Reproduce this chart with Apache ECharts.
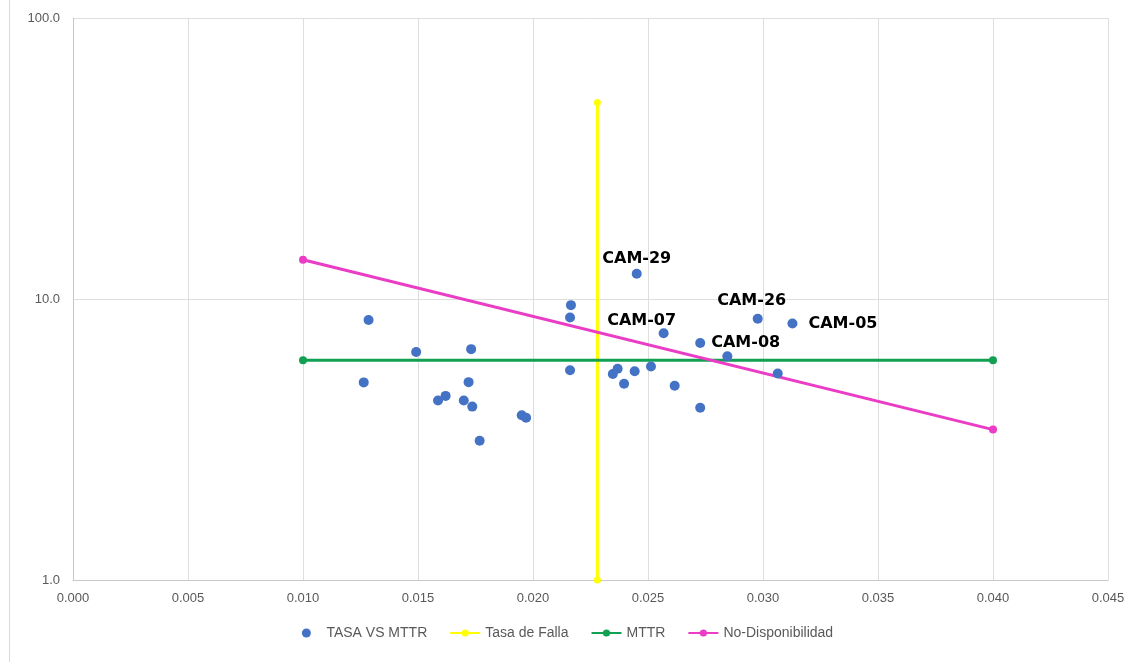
<!DOCTYPE html>
<html>
<head>
<meta charset="utf-8">
<script src="https://cdn.jsdelivr.net/npm/echarts@6/dist/echarts.min.js"></script>
<style>html,body{margin:0;padding:0;background:#fff}#c{width:1135px;height:662px}</style>
</head>
<body>
<div id="c"></div>
<script>
// Scatter points: failure rate (x) vs MTTR (y)
const tasaX = [0.01264,0.01285,0.01492,0.01731,0.01720,0.01587,0.01620,0.01699,0.01736,0.01951,0.01970,0.01768,
  0.02165,0.02161,0.02161,0.02451,0.02568,0.02727,0.02977,0.03128,0.02845,0.03064,0.02347,0.02368,0.02442,0.02513,0.02396,0.02616,0.02727];
const mttrY = [5.05,8.42,6.48,6.63,5.06,4.35,4.52,4.35,4.14,3.86,3.78,3.13,
  9.51,8.59,5.58,12.3,7.55,6.97,8.50,8.18,6.25,5.43,5.41,5.65,5.53,5.75,4.99,4.91,4.10];
const pointNames = ['','','','','','','','','','','','',
  '','','','CAM-29','CAM-07','CAM-08','CAM-26','CAM-05','','','','','','','','',''];
// Reference lines
const tasaFallaX = [0.0228, 0.0228];
const tasaFallaY = [1, 50];
const mttrLineX = [0.010, 0.040];
const mttrLineY = [6.05, 6.05];
const noDispX = [0.010, 0.040];
const noDispY = [13.8, 3.43];
const xTicks = [0,0.005,0.010,0.015,0.020,0.025,0.030,0.035,0.040,0.045];
const yTicks = [1,10,100];

const labelStyle = {
  'CAM-29': {position:'top', distance:2, offset:[0,0]},
  'CAM-07': {position:'top', distance:4, offset:[-22,5]},
  'CAM-08': {position:'right', distance:6, offset:[0,0]},
  'CAM-26': {position:'top', distance:5, offset:[-6,0]},
  'CAM-05': {position:'right', distance:11, offset:[0,0]}
};

const scatterData = tasaX.map((x,i) => {
  const d = {value:[x, mttrY[i]], name: pointNames[i]};
  if (pointNames[i]) {
    const s = labelStyle[pointNames[i]];
    d.label = {show:true, formatter: pointNames[i], position:s.position, distance:s.distance, offset:s.offset,
      fontFamily:'DejaVu Sans', fontWeight:'bold', fontSize:16, color:'#000'};
  }
  return d;
});
const pair = (xs, ys) => xs.map((x,i)=>[x, ys[i]]);

const chart = echarts.init(document.getElementById('c'), null, {renderer:'canvas'});
chart.setOption({
  animation:false,
  backgroundColor:'#fff',
  textStyle:{fontFamily:'Liberation Sans'},
  graphic:[{type:'line', shape:{x1:9.5,y1:0,x2:9.5,y2:662}, style:{stroke:'#d9d9d9', lineWidth:1}, silent:true}],
  grid:{left:73, right:27, top:18, bottom:82, containLabel:false},
  legend:{
    bottom:17, left:'center', itemGap:22, itemWidth:30, itemHeight:9,
    textStyle:{color:'#595959', fontSize:14, fontFamily:'Liberation Sans'},
    data:[
      {name:'TASA VS MTTR', icon:'circle', itemStyle:{color:'#4472C4'}},
      {name:'Tasa de Falla'},{name:'MTTR'},{name:'No-Disponibilidad'}
    ]
  },
  xAxis:{
    type:'value', min:0, max:0.045, interval:0.005,
    axisLine:{show:true, lineStyle:{color:'#c8c8c8'}},
    axisTick:{show:false},
    axisLabel:{color:'#595959', fontSize:13, margin:12, formatter:v=>v.toFixed(3)},
    splitLine:{show:true, lineStyle:{color:'#dedede'}}
  },
  yAxis:{
    type:'log', logBase:10, min:1, max:100,
    axisLine:{show:true, lineStyle:{color:'#c8c8c8'}},
    axisTick:{show:false},
    axisLabel:{color:'#595959', fontSize:13, margin:13, formatter:v=>Number(v).toFixed(1)},
    splitLine:{show:true, lineStyle:{color:'#dedede'}},
    minorSplitLine:{show:false}
  },
  series:[
    {name:'TASA VS MTTR', type:'scatter', data:scatterData, symbolSize:10, z:5,
      itemStyle:{color:'#4472C4', opacity:1}},
    {name:'Tasa de Falla', type:'line', data:pair(tasaFallaX,tasaFallaY), symbol:'circle', symbolSize:7,
      lineStyle:{color:'#FFFF00', width:3}, itemStyle:{color:'#FFFF00'}, z:3},
    {name:'MTTR', type:'line', data:pair(mttrLineX,mttrLineY), symbol:'circle', symbolSize:8,
      lineStyle:{color:'#12A052', width:3}, itemStyle:{color:'#12A052'}, z:3},
    {name:'No-Disponibilidad', type:'line', data:pair(noDispX,noDispY), symbol:'circle', symbolSize:8,
      lineStyle:{color:'#EA3CC4', width:3}, itemStyle:{color:'#EA3CC4'}, z:4}
  ]
});
</script>
</body>
</html>
